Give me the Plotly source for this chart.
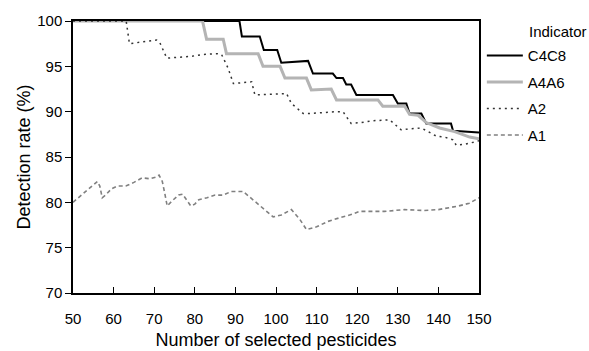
import plotly.graph_objects as go

# ---- data ----
c4c8_x = [50, 91.0, 91.6, 96.0, 97.0, 100.3, 101.3, 107.9, 109.1, 114.0, 114.9, 116.5, 117.3,
          118.5, 119.8, 128.8, 130.0, 132.1, 132.9, 135.8, 137.0, 143.1, 143.6, 150]
c4c8_y = [100, 100, 98.3, 98.3, 96.8, 96.8, 95.4, 95.6, 94.2, 94.2, 93.7, 93.7, 93.0,
          93.0, 91.85, 91.85, 90.9, 90.9, 89.8, 89.8, 88.7, 88.7, 87.9, 87.7]

a4a6_x = [50, 81.9, 82.9, 87.0, 87.8, 95.6, 96.8, 101.0, 102.2, 107.5, 108.7, 113.6, 114.9,
          125.1, 126.3, 131.7, 132.9, 135.0, 137.0, 140.3, 144.0, 147.7, 150]
a4a6_y = [100, 100, 98.0, 98.0, 96.4, 96.4, 95.0, 95.0, 93.7, 93.7, 92.4, 92.5, 91.3,
          91.3, 90.6, 90.6, 89.7, 89.6, 88.8, 88.2, 87.8, 87.2, 87.0]

a2_x = [50, 63.1, 63.9, 66, 68, 70.6, 71.4, 72.2, 73.1, 76, 79, 82, 85.4, 86.6, 88.2, 89.5,
        92, 94.0, 94.8, 98, 102.6, 103.8, 106.7, 108.3, 111, 114.9, 116.5, 118.5, 121, 124,
        128.0, 130.8, 133, 135.8, 137.5, 139.5, 141.5, 143.6, 144.4, 146.5, 149.3, 150]
a2_y = [100, 100, 97.5, 97.6, 97.7, 97.9, 97.6, 96.8, 95.9, 96.0, 96.1, 96.3, 96.4, 96.3,
        94.8, 93.1, 93.2, 93.3, 91.85, 91.9, 92.0, 90.9, 89.8, 89.8, 89.9, 90.0, 90.0, 88.7,
        88.8, 89.0, 89.1, 88.0, 88.1, 88.2, 87.8, 87.3, 87.2, 86.9, 86.3, 86.4, 86.7, 86.8]

a1_x = [50, 51.5, 53, 55, 56, 56.6, 57.2, 58, 59.5, 61, 63, 65, 67, 69, 70.5, 71.2, 72, 72.6,
        73.2, 74.5, 76, 77, 78, 79, 80, 81, 83, 85, 87, 89, 91.9, 94.8, 97.2, 99.3, 101.3,
        103.8, 105.9, 107.5, 110, 112.8, 115.7, 118.1, 120.6, 123, 126.7, 131.6, 136.5, 140,
        142.7, 145, 147.6, 150]
a1_y = [80.0, 80.6, 81.2, 82.0, 82.3, 81.8, 80.5, 80.8, 81.5, 81.8, 81.8, 82.2, 82.7, 82.6,
        82.8, 83.0, 82.3, 81.0, 79.6, 80.2, 80.8, 80.9, 80.2, 79.6, 79.8, 80.3, 80.5, 80.8,
        80.8, 81.2, 81.2, 80.1, 79.2, 78.4, 78.6, 79.2, 78.1, 77.0, 77.3, 77.9, 78.3, 78.6,
        79.0, 79.0, 79.0, 79.2, 79.1, 79.2, 79.4, 79.6, 79.9, 80.5]

x_ticks = [50, 60, 70, 80, 90, 100, 110, 120, 130, 140, 150]
y_ticks = [70, 75, 80, 85, 90, 95, 100]

FONT = "Liberation Sans, Arial, sans-serif"

fig = go.Figure()
fig.add_trace(go.Scatter(x=c4c8_x, y=c4c8_y, mode="lines", name="C4C8", legendgroup="g0",
                         line=dict(color="black", width=2)))
fig.add_trace(go.Scatter(x=a4a6_x, y=a4a6_y, mode="lines", name="A4A6", legendgroup="g1",
                         line=dict(color="#b4b4b4", width=3)))
fig.add_trace(go.Scatter(x=a2_x, y=a2_y, mode="lines", name="A2", legendgroup="g2",
                         line=dict(color="#333333", width=1.5, dash="2px,4px")))
fig.add_trace(go.Scatter(x=a1_x, y=a1_y, mode="lines", name="A1", legendgroup="g3",
                         line=dict(color="#808080", width=1.6, dash="4px,3px")))

fig.update_layout(
    width=589, height=351,
    margin=dict(l=73, r=110, t=21, b=58),
    paper_bgcolor="white", plot_bgcolor="white",
    font=dict(family=FONT, size=15, color="black"),
    showlegend=True,
    legend=dict(
        x=1.007, y=0.933, xanchor="left", yanchor="top",
        font=dict(size=15), itemwidth=36, tracegroupgap=4,
        bgcolor="rgba(0,0,0,0)",
    ),
    annotations=[dict(text="Indicator", xref="paper", yref="paper", x=1.118, y=0.96,
                      xanchor="left", yanchor="middle", showarrow=False,
                      font=dict(size=15))],
    xaxis=dict(
        range=[50, 150], tickvals=x_ticks, ticktext=[str(v) for v in x_ticks],
        ticks="inside", ticklen=6, tickwidth=1, tickcolor="black",
        showline=True, linecolor="black", linewidth=1.5, mirror=True,
        showgrid=False, zeroline=False, ticklabelstandoff=11, automargin=False,
        tickfont=dict(size=15),
        title=dict(text="Number of selected pesticides", font=dict(size=18), standoff=8),
    ),
    yaxis=dict(
        range=[70, 100], tickvals=y_ticks, ticktext=[str(v) for v in y_ticks],
        ticks="outside", ticklen=6, tickwidth=1, tickcolor="black",
        showline=True, linecolor="black", linewidth=1.5, mirror=True,
        showgrid=False, zeroline=False, automargin=False,
        tickfont=dict(size=15),
        title=dict(text="Detection rate (%)", font=dict(size=18), standoff=2),
    ),
)

fig.write_html("out.html", config={"displayModeBar": False},
               post_script="document.body.style.margin='0px';")
